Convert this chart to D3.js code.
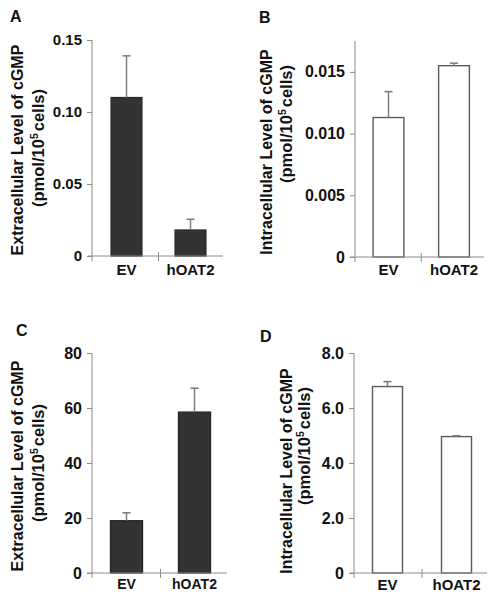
<!DOCTYPE html>
<html>
<head>
<meta charset="utf-8">
<script src="https://cdn.jsdelivr.net/npm/d3@7"></script>
<style>
  html, body { margin: 0; padding: 0; background: #fff; }
  svg { display: block; }
  text { font-family: "Liberation Sans", Arial, sans-serif; font-weight: bold; fill: #111; }
</style>
</head>
<body>
<svg id="chart" width="494" height="600"></svg>
<script>
// ---- data ----
const categories = ["EV", "hOAT2"];

const valuesA = [0.110, 0.018];
const errorsA = [0.029, 0.0075];
const ticksA = [0, 0.05, 0.10, 0.15];
const tickLabelsA = ["0", "0.05", "0.10", "0.15"];

const valuesB = [0.0113, 0.0155];
const errorsB = [0.0021, 0.0002];
const ticksB = [0, 0.005, 0.010, 0.015];
const tickLabelsB = ["0", "0.005", "0.010", "0.015"];

const valuesC = [19.0, 58.5];
const errorsC = [2.9, 8.7];
const ticksC = [0, 20, 40, 60, 80];
const tickLabelsC = ["0", "20", "40", "60", "80"];

const valuesD = [6.78, 4.96];
const errorsD = [0.18, 0.03];
const ticksD = [0, 2, 4, 6, 8];
const tickLabelsD = ["0", "2.0", "4.0", "6.0", "8.0"];

const titlesLine1 = ["Extracellular Level of cGMP", "Intracellular Level of cGMP"];
const panelLetters = ["A", "B", "C", "D"];

// ---- layout (positions/styles only) ----
const panels = [
  { letter: panelLetters[0], values: valuesA, errors: errorsA, ticks: ticksA, tickLabels: tickLabelsA,
    domainMax: 0.15, title: titlesLine1[0], dark: true,
    axisX: 92, y0: 256, yTop: 40, band: [94.5, 222.5], pad: 0.52, xStart: 88, xEnd: 223,
    letterPos: [10, 22], t1: [22.5, 150], t2: [44, 148], labelY: 275, labelSize: 15, tickSize: 15 },
  { letter: panelLetters[1], values: valuesB, errors: errorsB, ticks: ticksB, tickLabels: tickLabelsB,
    domainMax: 0.0175, title: titlesLine1[1], dark: false,
    axisX: 355, y0: 257, yTop: 41, band: [355.75, 486.75], pad: 0.53, xStart: 350, xEnd: 484,
    letterPos: [259, 23], t1: [272, 152], t2: [292, 124], labelY: 275, labelSize: 15, tickSize: 16 },
  { letter: panelLetters[2], values: valuesC, errors: errorsC, ticks: ticksC, tickLabels: tickLabelsC,
    domainMax: 80, title: titlesLine1[0], dark: true,
    axisX: 92, y0: 573, yTop: 353, band: [92.5, 228.5], pad: 0.53, xStart: 87, xEnd: 227,
    letterPos: [16, 336], t1: [22.5, 466], t2: [44, 463], labelY: 589, labelSize: 14, tickSize: 16 },
  { letter: panelLetters[3], values: valuesD, errors: errorsD, ticks: ticksD, tickLabels: tickLabelsD,
    domainMax: 8, title: titlesLine1[1], dark: false,
    axisX: 354, y0: 573, yTop: 353, band: [353, 491], pad: 0.565, xStart: 350, xEnd: 487,
    letterPos: [260, 342], t1: [292, 471], t2: [310, 446], labelY: 590, labelSize: 15, tickSize: 16 }
];

const svg = d3.select("#chart");
const axisColor = "#8c8c8c";

panels.forEach(p => {
  const g = svg.append("g");
  const y = d3.scaleLinear().domain([0, p.domainMax]).range([p.y0, p.yTop]);
  const x = d3.scaleBand().domain(categories).range(p.band)
    .paddingInner(p.pad).paddingOuter(p.pad / 2);

  // panel letter
  g.append("text").attr("x", p.letterPos[0]).attr("y", p.letterPos[1])
    .style("font-size", "16px").text(p.letter);

  // y title (two lines)
  g.append("text")
    .attr("transform", `translate(${p.t1[0]},${p.t1[1]}) rotate(-90)`)
    .attr("text-anchor", "middle").style("font-size", "16px")
    .text(p.title);
  const t2 = g.append("text")
    .attr("transform", `translate(${p.t2[0]},${p.t2[1]}) rotate(-90)`)
    .attr("text-anchor", "middle").style("font-size", "16.5px");
  t2.append("tspan").text("(pmol/10");
  t2.append("tspan").attr("dy", -6).style("font-size", "10.5px").text("5");
  t2.append("tspan").attr("dy", 6).attr("dx", 2).text("cells)");

  // bars
  g.selectAll("rect.bar").data(p.values).join("rect")
    .attr("class", "bar")
    .attr("x", (d, i) => x(categories[i]))
    .attr("width", x.bandwidth())
    .attr("y", d => y(d))
    .attr("height", d => y(0) - y(d))
    .attr("fill", p.dark ? "#333333" : "#ffffff")
    .attr("stroke", p.dark ? "#262626" : "#5a5a5a")
    .attr("stroke-width", 1.4);

  // error bars (upper only)
  p.values.forEach((v, i) => {
    const cx = x(categories[i]) + x.bandwidth() / 2;
    const top = y(v + p.errors[i]);
    g.append("line").attr("x1", cx).attr("x2", cx).attr("y1", y(v)).attr("y2", top)
      .attr("stroke", "#7d7d7d").attr("stroke-width", 1.5);
    g.append("line").attr("x1", cx - 4).attr("x2", cx + 4).attr("y1", top).attr("y2", top)
      .attr("stroke", "#7d7d7d").attr("stroke-width", 1.6);
  });

  // y axis
  const yAxis = d3.axisLeft(y).tickValues(p.ticks)
    .tickFormat((d, i) => p.tickLabels[i]).tickSize(5).tickSizeOuter(0).tickPadding(5);
  const ga = g.append("g").attr("transform", `translate(${p.axisX},0)`).call(yAxis);
  ga.select(".domain").remove();
  ga.selectAll(".tick line").attr("stroke", axisColor);
  ga.selectAll(".tick text").style("font-size", p.tickSize + "px").attr("fill", "#111");
  ga.attr("font-family", null).attr("font-size", null);
  g.append("line").attr("x1", p.axisX).attr("x2", p.axisX)
    .attr("y1", y.range()[1]).attr("y2", p.y0 + 5)
    .attr("stroke", axisColor).attr("stroke-width", 1);

  // x axis line with a single separator tick between the groups
  g.append("line").attr("x1", p.xStart).attr("x2", p.xEnd)
    .attr("y1", p.y0).attr("y2", p.y0)
    .attr("stroke", axisColor).attr("stroke-width", 1);
  const mid = (x(categories[0]) + x(categories[1]) + x.bandwidth()) / 2;
  g.append("line").attr("x1", mid).attr("x2", mid)
    .attr("y1", p.y0 - 4).attr("y2", p.y0 + 5)
    .attr("stroke", axisColor).attr("stroke-width", 1);

  // category labels
  g.selectAll("text.cat").data(categories).join("text")
    .attr("class", "cat")
    .attr("x", d => x(d) + x.bandwidth() / 2)
    .attr("y", p.labelY)
    .attr("text-anchor", "middle")
    .style("font-size", p.labelSize + "px")
    .text(d => d);
});
</script>
</body>
</html>
